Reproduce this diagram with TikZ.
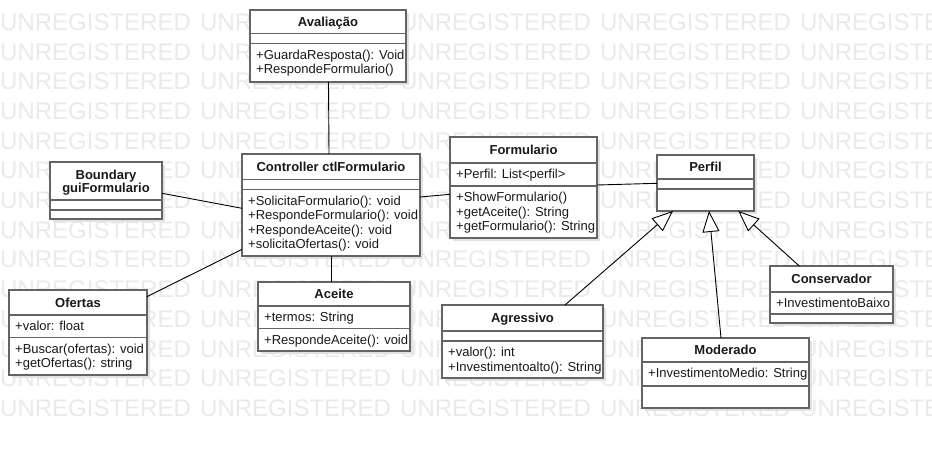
\documentclass[tikz,border=0pt]{standalone}
\usepackage{fontspec}
\setmainfont{Liberation Sans}
\usetikzlibrary{arrows.meta,calc}
\definecolor{wm}{RGB}{234,234,234}
\definecolor{bord}{RGB}{100,100,100}
\definecolor{shad}{RGB}{226,226,226}
\tikzset{
  box/.style={draw=bord, line width=1.6pt, fill=white, rectangle, inner sep=0pt, outer sep=0pt, anchor=north west},
  shadowbox/.style={fill=shad, draw=none},
  sepline/.style={draw=bord, line width=1.6pt},
  ttl/.style={font=\bfseries\fontsize{13}{15}\selectfont, anchor=base, inner sep=0pt, text=black!90},
  rowtxt/.style={font=\fontsize{13}{15}\selectfont, anchor=base west, inner sep=0pt, text=black!90},
  conn/.style={draw=black, line width=0.9pt},
  gen/.style={conn, -{Triangle[length=21pt, width=17pt, fill=white]}},
  wmark/.style={font=\fontsize{24}{24}\selectfont, text=wm, anchor=base west, inner sep=0pt},
}
% name, x1, y1, x2, y2, line1, line2
\newcommand{\umlbox}[7]{%
  \fill[shadowbox] (#2+3,#3+3) rectangle (#4+3,#5+3);
  \node[box, minimum width={#4-#2}, minimum height={#5-#3}] (#1) at (#2,#3) {};
  \draw[sepline] (#2,#6) -- (#4,#6);
  \draw[sepline] (#2,#7) -- (#4,#7);
}
\begin{document}
\begin{tikzpicture}[x=1pt,y=-1pt]
\useasboundingbox (0,0) rectangle (932,448);
\clip (0,0) rectangle (932,448);
\fill[white] (0,0) rectangle (932,448);
% watermark
\foreach \r in {0,...,13}{
  \foreach \c in {0,...,4}{
    \node[wmark] (wm-\r-\c) at (200*\c, 30.3+29.7*\r) {UNREGISTERED};
  }
}
% boxes
\umlbox{aval}{250}{10}{406}{82}{33.3}{43.3}
\umlbox{ctrl}{242}{154}{420}{256}{179.3}{189.3}
\umlbox{bnd}{50}{162}{162}{219}{200}{210}
\umlbox{form}{450}{137}{597}{238}{162.7}{185.7}
\umlbox{perf}{657}{155}{754}{211}{178.7}{188.7}
\umlbox{ofe}{9}{290}{147}{375}{315}{337.3}
\umlbox{ace}{258}{282}{410}{351}{306}{328.3}
\umlbox{agr}{442}{305}{603}{378}{331}{341}
\umlbox{mod}{642}{338}{809}{408}{362}{385.7}
\umlbox{con}{770}{266}{893}{323}{291.7}{314}
% titles
\node[ttl] (aval-t) at (328,26.3) {Avaliação};
\node[ttl] (ctrl-t) at (331,171.3) {Controller ctlFormulario};
\node[ttl] (bnd-t1) at (106,179.2) {Boundary};
\node[ttl] (bnd-t2) at (106,192.4) {guiFormulario};
\node[ttl] (form-t) at (523.5,154.5) {Formulario};
\node[ttl] (perf-t) at (705.5,171.5) {Perfil};
\node[ttl] (ofe-t) at (78,307.1) {Ofertas};
\node[ttl] (ace-t) at (334,298.6) {Aceite};
\node[ttl] (agr-t) at (522.5,322.6) {Agressivo};
\node[ttl] (mod-t) at (725.5,354.6) {Moderado};
\node[ttl] (con-t) at (831.5,283.5) {Conservador};
% rows
\node[rowtxt] (aval-r1) at (256,59.1) {+GuardaResposta(): Void};
\node[rowtxt] (aval-r2) at (256,73.7) {+RespondeFormulario()};
\node[rowtxt] (ctrl-r1) at (248,205.1) {+SolicitaFormulario(): void};
\node[rowtxt] (ctrl-r2) at (248,219.7) {+RespondeFormulario(): void};
\node[rowtxt] (ctrl-r3) at (248,234.3) {+RespondeAceite(): void};
\node[rowtxt] (ctrl-r4) at (248,248.9) {+solicitaOfertas(): void};
\node[rowtxt] (form-a1) at (456,178.5) {+Perfil: List<perfil>};
\node[rowtxt] (form-r1) at (456,201.5) {+ShowFormulario()};
\node[rowtxt] (form-r2) at (456,216.1) {+getAceite(): String};
\node[rowtxt] (form-r3) at (456,230.7) {+getFormulario(): String};
\node[rowtxt] (ofe-a1) at (15,330.8) {+valor: float};
\node[rowtxt] (ofe-r1) at (15,353.1) {+Buscar(ofertas): void};
\node[rowtxt] (ofe-r2) at (15,367.7) {+getOfertas(): string};
\node[rowtxt] (ace-a1) at (264,321.8) {+termos: String};
\node[rowtxt] (ace-r1) at (264,344.1) {+RespondeAceite(): void};
\node[rowtxt] (agr-r1) at (448,356.8) {+valor(): int};
\node[rowtxt] (agr-r2) at (448,371.4) {+Investimentoalto(): String};
\node[rowtxt] (mod-a1) at (648,377.8) {+InvestimentoMedio: String};
\node[rowtxt] (con-a1) at (776,307.5) {+InvestimentoBaixo};
% connectors
\draw[conn] ([xshift=78.5pt]aval.south west) -- ([xshift=87pt]ctrl.north west);
\draw[conn] ([yshift=-31.3pt]bnd.north east) -- ([yshift=-54.3pt]ctrl.north west);
\draw[conn] ([yshift=-95.3pt]ctrl.north west) -- ([yshift=-6.7pt]ofe.north east);
\draw[conn] ([xshift=89pt]ctrl.south west) -- ([xshift=73pt]ace.north west);
\draw[conn] ([yshift=-43pt]ctrl.north east) -- ([yshift=-57.3pt]form.north west);
\draw[conn] ([yshift=-48pt]form.north east) -- ([yshift=-28.3pt]perf.north west);
\draw[gen] ([xshift=123pt]agr.north west) -- ([xshift=16pt]perf.south west);
\draw[gen] ([xshift=79pt]mod.north west) -- ([xshift=52pt]perf.south west);
\draw[gen] ([xshift=29.3pt]con.north west) -- ([xshift=81.3pt]perf.south west);
\end{tikzpicture}
\end{document}
